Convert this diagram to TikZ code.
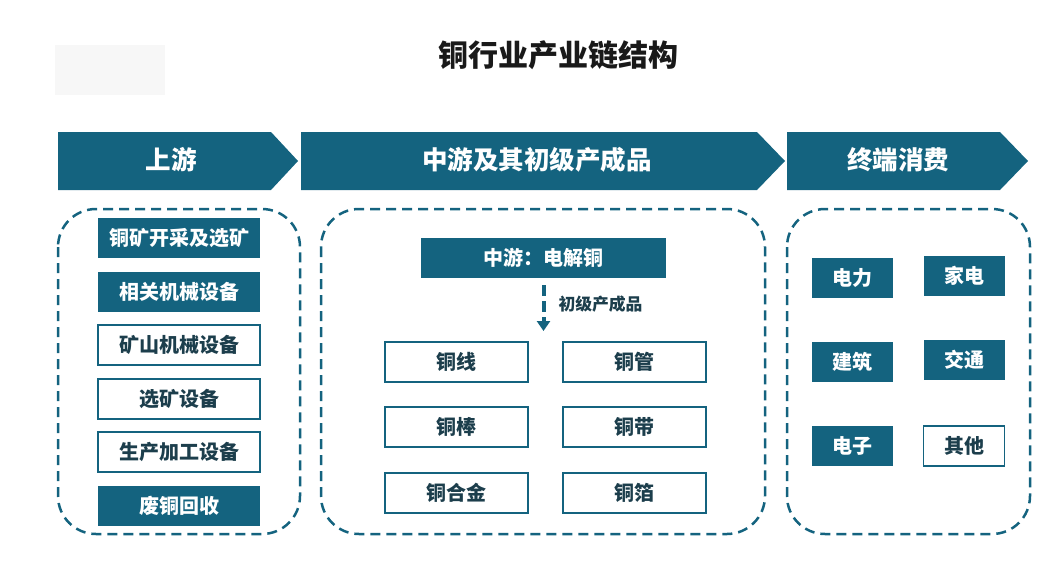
\documentclass[tikz,border=0pt]{standalone}
\usepackage{fontspec}
\newfontfamily\cjk{Noto Sans CJK SC}
\usetikzlibrary{arrows.meta}
\definecolor{copper}{HTML}{14637F}
\definecolor{inktext}{HTML}{1C3E4C}

\begin{document}
\begin{tikzpicture}[x=1pt, y=-1pt,
        darkbox/.style={fill=copper, text=white, inner sep=0pt, minimum height=40pt,
            font=\cjk\bfseries\fontsize{20}{20}\selectfont},
        lightbox/.style={draw=copper, line width=1.2pt, fill=white, text=inktext, inner sep=0pt,
            minimum height=40pt, font=\cjk\bfseries\fontsize{20}{20}\selectfont},
        stagebox/.style={draw=copper, line width=2.5pt, dash pattern=on 10pt off 6pt, rounded corners=38pt},
        headtext/.style={text=white, font=\cjk\bfseries\fontsize{25.5}{26}\selectfont}]
    \useasboundingbox (0,0) rectangle (1060,570);
    \fill[black!3] (55,45) rectangle (165,95);
    \node[font=\cjk\bfseries\fontsize{30}{30}\selectfont, text=black!90] (title) at (558,55) {铜行业产业链结构};

    % stage headers
    \fill[copper] (58,132) -- (271,132) -- (298,161) -- (271,190) -- (58,190) -- cycle;
    \fill[copper] (301,132) -- (757,132) -- (785,161) -- (757,190) -- (301,190) -- cycle;
    \fill[copper] (787,132) -- (1000,132) -- (1028,161) -- (1000,190) -- (787,190) -- cycle;
    \node[headtext] (up) at (171,160) {上游};
    \node[headtext] (middle) at (537,160) {中游及其初级产成品};
    \node[headtext] (down) at (898,160) {终端消费};

    % dashed frames
    \draw[stagebox] (58,209) rectangle (300,534);
    \draw[stagebox] (321,209) rectangle (765,534);
    \draw[stagebox] (787,209) rectangle (1030,534);

    % upstream
    \node[darkbox, minimum width=162pt] (mining) at (179,238) {铜矿开采及选矿};
    \node[darkbox, minimum width=162pt] (machinery) at (179,292) {相关机械设备};
    \node[lightbox, minimum width=162pt] (minemach) at (179,345) {矿山机械设备};
    \node[lightbox, minimum width=162pt] (dressing) at (179,399) {选矿设备};
    \node[lightbox, minimum width=162pt] (process) at (179,452) {生产加工设备};
    \node[darkbox, minimum width=162pt] (scrap) at (179,506) {废铜回收};

    % midstream
    \node[darkbox, minimum width=245pt] (cathode) at (543.5,258) {中游：电解铜};
    \coordinate (prodend) at (543.5,331);
    \draw[copper, line width=4pt, dash pattern=on 11pt off 5pt, shorten <=7pt,
        -{Triangle[width=13pt,length=10pt]}] (cathode) -- (prodend);
    \node[anchor=west, text=inktext, font=\cjk\bfseries\fontsize{16.8}{17}\selectfont] (prodlabel) at (555,304) {初级产成品};
    \node[lightbox, minimum width=143pt] (wire) at (456.5,362) {铜线};
    \node[lightbox, minimum width=143pt] (tube) at (634.5,362) {铜管};
    \node[lightbox, minimum width=143pt] (rod) at (456.5,427) {铜棒};
    \node[lightbox, minimum width=143pt] (strip) at (634.5,427) {铜带};
    \node[lightbox, minimum width=143pt] (alloy) at (456.5,493) {铜合金};
    \node[lightbox, minimum width=143pt] (foil) at (634.5,493) {铜箔};

    % end use
    \node[darkbox, minimum width=81pt] (power) at (852.5,278) {电力};
    \node[darkbox, minimum width=81pt] (appliance) at (964,276) {家电};
    \node[darkbox, minimum width=81pt] (building) at (852.5,362) {建筑};
    \node[darkbox, minimum width=81pt] (traffic) at (964,360) {交通};
    \node[darkbox, minimum width=81pt] (electronic) at (852.5,446) {电子};
    \node[lightbox, minimum width=81pt] (other) at (964,446) {其他};
\end{tikzpicture}
\end{document}
